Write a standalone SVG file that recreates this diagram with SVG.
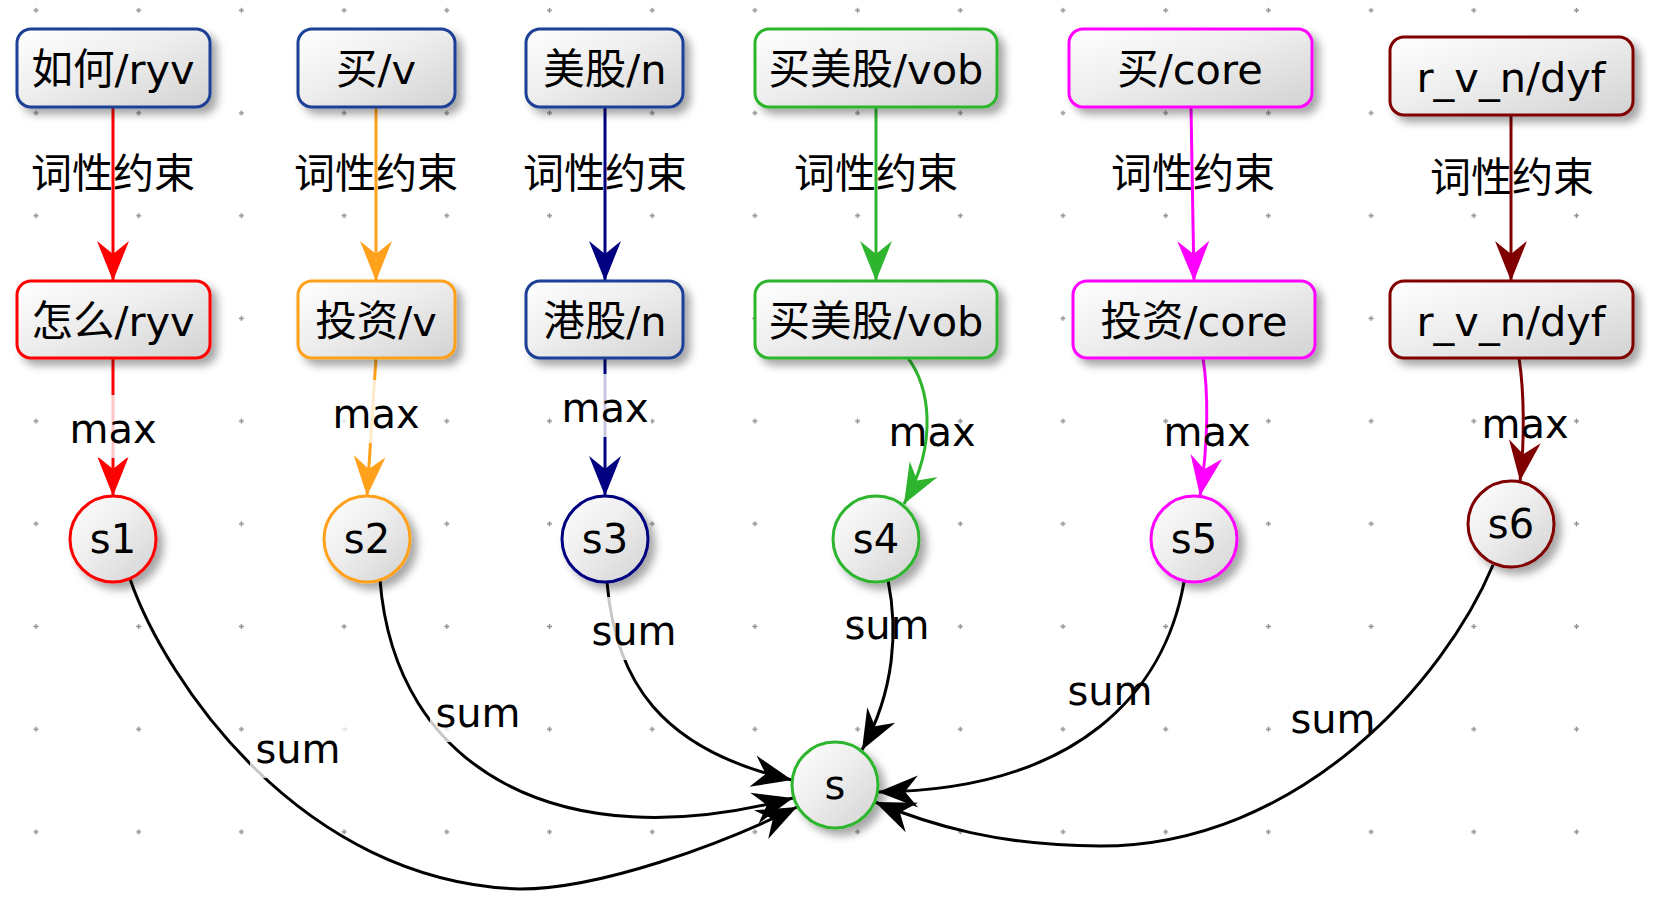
<svg xmlns="http://www.w3.org/2000/svg" width="1664" height="906" viewBox="0 0 1664 906">
<style>
  text { font-family: "DejaVu Sans", "Noto Sans CJK SC", sans-serif; font-size: 40px; fill: #000; text-anchor: middle; }
  .nt { font-size: 41.5px; }
  .cx { font-size: 41px; }
  .box { fill: url(#nodeFill); stroke-width: 3; filter: url(#shadow); }
  .e { fill: none; stroke-width: 3; }
  .lbg { fill: #fff; opacity: 0.78; }
  .blue { stroke: #1c3f95; }
  .red { stroke: #ff0000; }
  .orange { stroke: #ffa11a; }
  .navy { stroke: #000080; }
  .green { stroke: #2eb52e; }
  .magenta { stroke: #ff00ff; }
  .darkred { stroke: #800000; }
  .black { stroke: #000; }
</style>
<defs>
  <linearGradient id="nodeFill" x1="0" y1="0" x2="1" y2="1">
    <stop offset="0" stop-color="#ffffff"/>
    <stop offset="0.45" stop-color="#eeeeee"/>
    <stop offset="1" stop-color="#d2d2d2"/>
  </linearGradient>
  <filter id="shadow" x="-20%" y="-20%" width="150%" height="160%">
    <feGaussianBlur in="SourceAlpha" stdDeviation="4"/>
    <feOffset dx="6" dy="6" result="b"/>
    <feFlood flood-color="#000" flood-opacity="0.35"/>
    <feComposite in2="b" operator="in"/>
    <feMerge><feMergeNode/><feMergeNode in="SourceGraphic"/></feMerge>
  </filter>
  <pattern id="grid" x="-15.35" y="-41.05" width="102.7" height="102.7" patternUnits="userSpaceOnUse">
    <path d="M48.85,51.35 h5 M51.35,48.85 v5" stroke="#8f8f8f" stroke-width="1.4"/>
  </pattern>
  <marker id="a-red" markerUnits="userSpaceOnUse" markerWidth="44" markerHeight="36" viewBox="-42 -18 44 36" refX="0" refY="0" orient="auto"><path d="M0,0 L-40,-16 L-27,0 L-40,16 Z" fill="#ff0000"/></marker>
  <marker id="a-orange" markerUnits="userSpaceOnUse" markerWidth="44" markerHeight="36" viewBox="-42 -18 44 36" refX="0" refY="0" orient="auto"><path d="M0,0 L-40,-16 L-27,0 L-40,16 Z" fill="#ffa11a"/></marker>
  <marker id="a-navy" markerUnits="userSpaceOnUse" markerWidth="44" markerHeight="36" viewBox="-42 -18 44 36" refX="0" refY="0" orient="auto"><path d="M0,0 L-40,-16 L-27,0 L-40,16 Z" fill="#000080"/></marker>
  <marker id="a-green" markerUnits="userSpaceOnUse" markerWidth="44" markerHeight="36" viewBox="-42 -18 44 36" refX="0" refY="0" orient="auto"><path d="M0,0 L-40,-16 L-27,0 L-40,16 Z" fill="#2eb52e"/></marker>
  <marker id="a-magenta" markerUnits="userSpaceOnUse" markerWidth="44" markerHeight="36" viewBox="-42 -18 44 36" refX="0" refY="0" orient="auto"><path d="M0,0 L-40,-16 L-27,0 L-40,16 Z" fill="#ff00ff"/></marker>
  <marker id="a-darkred" markerUnits="userSpaceOnUse" markerWidth="44" markerHeight="36" viewBox="-42 -18 44 36" refX="0" refY="0" orient="auto"><path d="M0,0 L-40,-16 L-27,0 L-40,16 Z" fill="#800000"/></marker>
  <marker id="a-black" markerUnits="userSpaceOnUse" markerWidth="44" markerHeight="36" viewBox="-42 -18 44 36" refX="0" refY="0" orient="auto"><path d="M0,0 L-40,-16 L-27,0 L-40,16 Z" fill="#000"/></marker>
</defs>

<rect x="0" y="0" width="1664" height="906" fill="#ffffff"/>
<rect x="0" y="0" width="1664" height="906" fill="url(#grid)"/>

<g id="connectors">
  <!-- 词性约束 edges -->
  <text class="cx" x="113" y="188">词性约束</text>
  <path class="e red" d="M113,107 L113,281" marker-end="url(#a-red)"/>
  <text class="cx" x="376" y="188">词性约束</text>
  <path class="e orange" d="M376,107 L376,281" marker-end="url(#a-orange)"/>
  <text class="cx" x="605" y="188">词性约束</text>
  <path class="e navy" d="M605,107 L605,281" marker-end="url(#a-navy)"/>
  <text class="cx" x="876" y="188">词性约束</text>
  <path class="e green" d="M876,107 L876,281" marker-end="url(#a-green)"/>
  <text class="cx" x="1193" y="188">词性约束</text>
  <path class="e magenta" d="M1191,107 L1194,281" marker-end="url(#a-magenta)"/>
  <text class="cx" x="1512" y="192">词性约束</text>
  <path class="e darkred" d="M1511,115 L1511,281" marker-end="url(#a-darkred)"/>

  <!-- max edges -->
  <path class="e red" d="M113,358 L113,496" marker-end="url(#a-red)"/>
  <rect class="lbg" x="67" y="395" width="92" height="63"/>
  <text x="113" y="443">max</text>
  <path class="e orange" d="M376,358 L367,496" marker-end="url(#a-orange)"/>
  <rect class="lbg" x="330" y="380" width="92" height="63"/>
  <text x="376" y="428">max</text>
  <path class="e navy" d="M605,358 L605,496" marker-end="url(#a-navy)"/>
  <rect class="lbg" x="559" y="374" width="92" height="63"/>
  <text x="605" y="422">max</text>
  <path class="e green" d="M908,358 C928,385 940,440 904,504" marker-end="url(#a-green)"/>
  <text x="932" y="446">max</text>
  <path class="e magenta" d="M1203,358 C1208,390 1209,440 1200,496" marker-end="url(#a-magenta)"/>
  <text x="1207" y="446">max</text>
  <path class="e darkred" d="M1519,358 C1524,390 1525,440 1520,481" marker-end="url(#a-darkred)"/>
  <text x="1525" y="438">max</text>

  <!-- sum edges -->
  <path class="e black" d="M130,579 C165,680 300,882 520,889 C600,889 720,845 797,807" marker-end="url(#a-black)"/>
  <rect class="lbg" x="250" y="715" width="96" height="63"/>
  <text x="298" y="763">sum</text>
  <path class="e black" d="M380,580 C395,770 560,860 793,798" marker-end="url(#a-black)"/>
  <rect class="lbg" x="430" y="679" width="96" height="63"/>
  <text x="478" y="727">sum</text>
  <path class="e black" d="M607,582 C615,680 660,750 792,780" marker-end="url(#a-black)"/>
  <rect class="lbg" x="586" y="597" width="96" height="63"/>
  <text x="634" y="645">sum</text>
  <path class="e black" d="M888,580 C898,630 895,690 862,750" marker-end="url(#a-black)"/>
  <text x="887" y="639">sum</text>
  <path class="e black" d="M1184,582 C1165,690 1080,790 878,792" marker-end="url(#a-black)"/>
  <text x="1110" y="705">sum</text>
  <path class="e black" d="M1493,565 C1445,680 1300,846 1100,846 C1000,846 930,825 875,802" marker-end="url(#a-black)"/>
  <text x="1333" y="733">sum</text>
</g>

<g id="n1"><rect class="box blue" x="17" y="29" width="193" height="78" rx="14"/><text class="nt" x="113" y="84">如何/ryv</text></g>
<g id="n2"><rect class="box blue" x="298" y="29" width="157" height="78" rx="14"/><text class="nt" x="376" y="84">买/v</text></g>
<g id="n3"><rect class="box blue" x="526" y="29" width="157" height="78" rx="14"/><text class="nt" x="605" y="84">美股/n</text></g>
<g id="n4"><rect class="box green" x="755" y="29" width="242" height="78" rx="14"/><text class="nt" x="876" y="84">买美股/vob</text></g>
<g id="n5"><rect class="box magenta" x="1069" y="29" width="243" height="78" rx="14"/><text class="nt" x="1190" y="84">买/core</text></g>
<g id="n6"><rect class="box darkred" x="1390" y="37" width="243" height="78" rx="14"/><text class="nt" x="1511" y="92">r_v_n/dyf</text></g>

<g id="n7"><rect class="box red" x="17" y="281" width="193" height="77" rx="14"/><text class="nt" x="113" y="336">怎么/ryv</text></g>
<g id="n8"><rect class="box orange" x="298" y="281" width="157" height="77" rx="14"/><text class="nt" x="376" y="336">投资/v</text></g>
<g id="n9"><rect class="box blue" x="526" y="281" width="157" height="77" rx="14"/><text class="nt" x="605" y="336">港股/n</text></g>
<g id="n10"><rect class="box green" x="755" y="281" width="242" height="77" rx="14"/><text class="nt" x="876" y="336">买美股/vob</text></g>
<g id="n11"><rect class="box magenta" x="1073" y="281" width="242" height="77" rx="14"/><text class="nt" x="1194" y="336">投资/core</text></g>
<g id="n12"><rect class="box darkred" x="1390" y="281" width="243" height="77" rx="14"/><text class="nt" x="1511" y="336">r_v_n/dyf</text></g>

<g id="s1"><circle class="box red" cx="113" cy="539" r="43"/><text x="113" y="553">s1</text></g>
<g id="s2"><circle class="box orange" cx="367" cy="539" r="43"/><text x="367" y="553">s2</text></g>
<g id="s3"><circle class="box navy" cx="605" cy="539" r="43"/><text x="605" y="553">s3</text></g>
<g id="s4"><circle class="box green" cx="876" cy="539" r="43"/><text x="876" y="553">s4</text></g>
<g id="s5"><circle class="box magenta" cx="1194" cy="539" r="43"/><text x="1194" y="553">s5</text></g>
<g id="s6"><circle class="box darkred" cx="1511" cy="524" r="43"/><text x="1511" y="538">s6</text></g>
<g id="s"><circle class="box green" cx="835" cy="785" r="43"/><text x="835" y="799">s</text></g>
</svg>
